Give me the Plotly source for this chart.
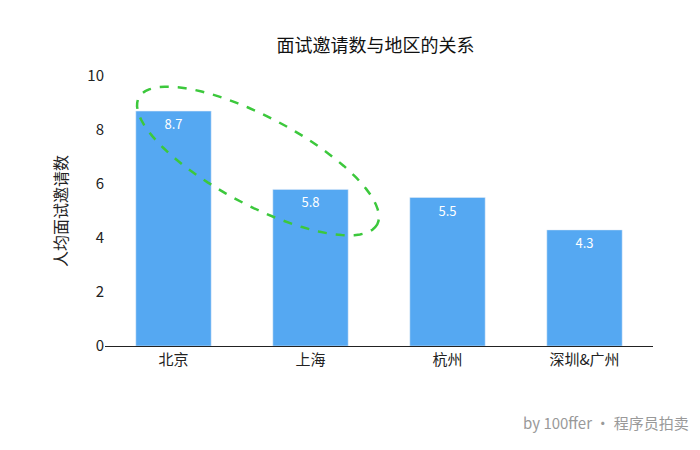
import numpy as np
import plotly.graph_objects as go

categories = ["北京", "上海", "杭州", "深圳&广州"]
values = [8.7, 5.8, 5.5, 4.3]
labels = ["8.7", "5.8", "5.5", "4.3"]

fig = go.Figure(go.Bar(
    x=categories, y=values, text=labels, textposition="inside",
    insidetextanchor="end", textfont=dict(color="white", size=13),
    marker=dict(color="#55A8F2"), width=0.55,
))

t = np.linspace(0, 2*np.pi, 80)
a, b, ang = 135, 44, np.deg2rad(28)
cx, cy = 250, 160
px = cx + a*np.cos(t)*np.cos(ang) - b*np.sin(t)*np.sin(ang)
py = cy + a*np.cos(t)*np.sin(ang) + b*np.sin(t)*np.cos(ang)
dx = (px - 97)/137 - 0.5
dy = (345 - py)/27
path = "M " + " L ".join(f"{x:.3f},{y:.3f}" for x, y in zip(dx, dy)) + " Z"
fig.add_shape(type="path", path=path, xref="x", yref="y",
              line=dict(color="#3CC83C", width=2.5, dash="dash"))

fig.update_layout(
    width=700, height=450, plot_bgcolor="white", paper_bgcolor="white",
    margin=dict(l=97, r=55, t=68, b=112),
    font=dict(family="Noto Sans CJK SC", color="#222", size=15),
    title=dict(text="面试邀请数与地区的关系", x=0.525, y=0.93, xanchor="center",
               font=dict(size=18, color="#111")),
    showlegend=False,
)
fig.update_yaxes(range=[0, 10], dtick=2, showgrid=False, zeroline=False,
                 title=dict(text="人均面试邀请数", font=dict(size=16)),
                 ticks="", tickfont=dict(size=15))
fig.update_xaxes(showline=True, linecolor="#222", linewidth=1, ticks="",
                 tickfont=dict(size=15))
fig.add_annotation(text="by 100ffer · 程序员拍卖", xref="paper", yref="paper",
                   x=1.07, y=-0.33, xanchor="right", showarrow=False,
                   font=dict(size=15, color="#999"))
fig.write_html("out.html")
